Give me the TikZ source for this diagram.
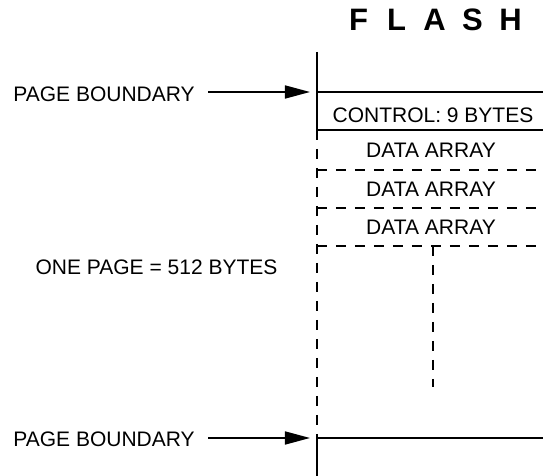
\documentclass[tikz,border=0pt]{standalone}
\usepackage{fontspec}
\setmainfont{Liberation Sans}
\usetikzlibrary{arrows.meta}

\tikzset{
  lbl/.style={font=\fontsize{10.5}{12}\selectfont,inner sep=0pt,anchor=base},
  bnd/.style={line width=.85pt},
  dsh/.style={line width=.85pt,dash pattern=on 5pt off 4.5pt},
  ptr/.style={line width=.85pt,-{Triangle[length=12.5pt,width=6.5pt]},shorten <=6.5pt,shorten >=3.5pt}
}

\newcommand\flashletter[1]{\makebox[19pt]{#1}}

\begin{document}
\begin{tikzpicture}[x=.5pt,y=-.5pt]
\useasboundingbox (0,0) rectangle (543,476);
\node[lbl,font=\fontsize{15.5}{18}\selectfont\bfseries] (title) at (434.5,31) {\flashletter{F}\flashletter{L}\flashletter{A}\flashletter{S}\flashletter{H}};
% page column
\coordinate (top) at (317,52);
\coordinate (b1) at (317,92);
\coordinate (b1r) at (543,92);
\coordinate (c1) at (317,130);
\coordinate (c1r) at (543,130);
\coordinate (b2) at (317,438);
\coordinate (b2r) at (543,438);
\coordinate (bot) at (317,476);
\draw[bnd] (top) -- (c1);
\draw[dsh] (c1) -- (b2);
\draw[bnd] (b2) -- (bot);
\draw[bnd] (b1) -- (b1r);
\draw[bnd] (c1) -- (c1r);
\draw[bnd] (b2) -- (b2r);
\foreach \y in {170,208,246} \draw[dsh] (317,\y) -- (543,\y);
\draw[dsh] (433,246) -- (433,387);
% texts
\node[lbl] (ctrl) at (433,123) {CONTROL: 9 BYTES};
\node[lbl] (arr1) at (431,158) {DATA ARRAY};
\node[lbl] (arr2) at (431,197) {DATA ARRAY};
\node[lbl] (arr3) at (431,235) {DATA ARRAY};
\node[lbl] (size) at (156.5,275) {ONE PAGE = 512 BYTES};
\node[lbl,anchor=base west] (pb1) at (13,102) {PAGE BOUNDARY};
\node[lbl,anchor=base west] (pb2) at (13,447) {PAGE BOUNDARY};
\draw[ptr] (pb1.east |- b1) -- (b1);
\draw[ptr] (pb2.east |- b2) -- (b2);
\end{tikzpicture}
\end{document}
